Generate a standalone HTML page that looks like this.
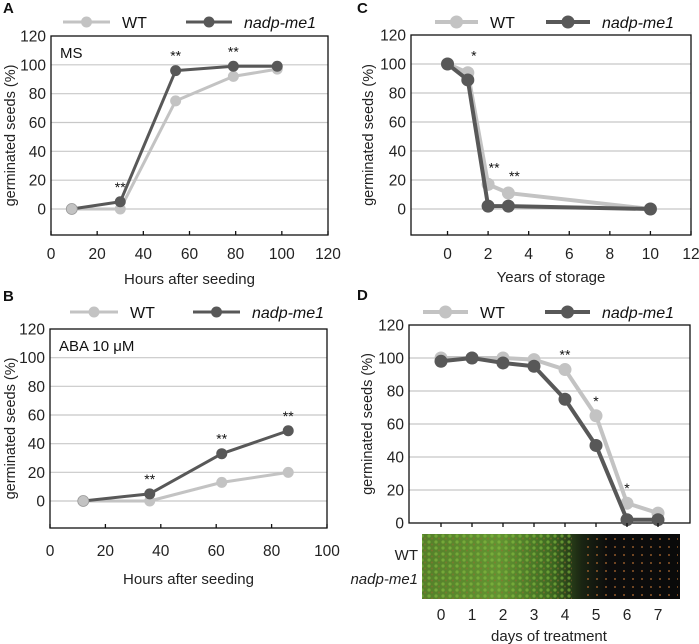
<!DOCTYPE html>
<html><head><meta charset="utf-8"><style>
body{margin:0;background:#fff;}
svg{display:block;font-family:"Liberation Sans",sans-serif;}
</style></head><body>
<svg id="fig" width="699" height="644" viewBox="0 0 699 644">
<defs>
<linearGradient id="seedGrad" x1="0" x2="1" y1="0" y2="0">
<stop offset="0" stop-color="#557f2a"/><stop offset="0.3" stop-color="#639432"/><stop offset="0.5" stop-color="#3f6a22"/><stop offset="0.62" stop-color="#1a2412"/><stop offset="0.72" stop-color="#0c0c0c"/><stop offset="1" stop-color="#0a0a0a"/>
</linearGradient>
<pattern id="dots" width="9" height="8" patternUnits="userSpaceOnUse"><circle cx="3" cy="3" r="1" fill="#b06a30"/></pattern>
<pattern id="leaf" width="7" height="6" patternUnits="userSpaceOnUse"><circle cx="2" cy="2" r="1.6" fill="#86c040" opacity="0.6"/><circle cx="5" cy="4.5" r="1" fill="#9a6a30" opacity="0.5"/></pattern>
</defs>
</svg>
<script>
const aX=[9,30,54,79,98], aWT=[0,0,75,92,97], aMut=[0,5,96,99,99], aStars=['','**','**','**',''];
const bX=[12,36,62,86], bWT=[0,0,13,20], bMut=[0,5,33,49], bStars=['','**','**','**'];
const cX=[0,1,2,3,10], cWT=[100,94,17,11,0], cMut=[100,89,2,2,0], cStars=['','*','**','**',''];
const dX=[0,1,2,3,4,5,6,7], dWT=[100,100,100,99,93,65,12,6], dMut=[98,100,97,95,75,47,2,2], dStars=['','','','','**','*','*',''];
const yTicks=[0,20,40,60,80,100,120];
const aXTicks=[0,20,40,60,80,100,120], bXTicks=[0,20,40,60,80,100], cXTicks=[0,2,4,6,8,10,12], dXTicks=[0,1,2,3,4,5,6,7];
const WT='#c3c3c3', MUT='#585858';
const svg=document.getElementById('fig');
const NS='http://www.w3.org/2000/svg';
function mk(tag,at,parent){const e=document.createElementNS(NS,tag);for(const k in at)e.setAttribute(k,at[k]);(parent||svg).appendChild(e);return e;}
function txt(s,at,parent){const e=mk('text',at,parent);e.textContent=s;return e;}

function panel(o){
  const g=mk('g',{});
  
  
  const sx=v=>o.x0+(v-o.xmin)/(o.xmax-o.xmin)*(o.x1-o.x0);
  const sy=v=>o.yZero-(v/120)*(o.yZero-o.top);
  yTicks.forEach(t=>{if(t>0&&t<120){const l=mk('line',{x1:o.x0,x2:o.x1,y1:sy(t),y2:sy(t),stroke:'#c8c8c8','stroke-width':1.2},g);}});
  if(o.zeroGrid){const l=mk('line',{x1:o.x0,x2:o.x1,y1:sy(0),y2:sy(0),stroke:'#c8c8c8','stroke-width':1.2},g);}
  const fr=mk('rect',{x:o.x0,y:o.top,width:o.x1-o.x0,height:o.bottom-o.top,fill:'none',stroke:'#111','stroke-width':1.3},g);
  
  yTicks.forEach(t=>{const e=txt(String(t),{x:o.x0-5,y:sy(t)+5.5,'font-size':15.5,'text-anchor':'end',fill:'#222'},g);});
  o.xTicks.forEach(t=>{const px=o.cat?o.catX(t):sx(t);
    mk('line',{x1:px,x2:px,y1:o.bottom,y2:o.bottom-4,stroke:'#111','stroke-width':1.3},g);
    const e=txt(String(t),{x:px,y:o.xLabY,'font-size':15.5,'text-anchor':'middle',fill:'#222'},g);});
  const yt=txt('germinated seeds (%)',{x:0,y:0,'font-size':14.5,'text-anchor':'middle',fill:'#222',transform:`translate(${o.yTitleX},${(o.top+o.bottom)/2}) rotate(-90)`},g);
  
  const xt=txt(o.xTitle,{x:(o.x0+o.x1)/2,y:o.xTitleY,'font-size':15,'text-anchor':'middle',fill:'#222'},g);
  
  if(o.label){const e=txt(o.label,{x:o.x0+9,y:o.top+22,'font-size':15,fill:'#111'},g);}
  const px=i=>o.cat?o.catX(o.xs[i]):sx(o.xs[i]);
  [[o.wt,WT,'wt'],[o.mut,MUT,'nadp-me1']].forEach(([vals,col,nm])=>{
    const pts=vals.map((v,i)=>px(i)+','+sy(v)).join(' ');
    const pl=mk('polyline',{points:pts,fill:'none',stroke:col,'stroke-width':o.lw,'stroke-linejoin':'round'},g);
    
    vals.forEach((v,i)=>{const c=mk('circle',{cx:px(i),cy:sy(v),r:o.r,fill:col},g);
      });
  });
  if(o.wtTopFirst){const c=mk('circle',{cx:px(0),cy:sy(o.wt[0]),r:o.r,fill:WT,stroke:'#999','stroke-width':0.8},g);}
  o.stars.forEach((s,i)=>{if(!s)return;const top=Math.max(o.wt[i],o.mut[i]);
    const e=txt(s,{x:px(i)+(o.starDx||0),y:sy(top)-o.starOff,'font-size':14,'text-anchor':'middle',fill:'#111'},g);
    });
  const lg=mk('g',{},g);
  const L=o.leg;
  const e1=mk('line',{x1:L.w0,x2:L.w1,y1:L.y,y2:L.y,stroke:WT,'stroke-width':o.lw},lg);
  mk('circle',{cx:(L.w0+L.w1)/2,cy:L.y,r:o.r,fill:WT},lg);
  txt('WT',{x:L.w1+12,y:L.y+6,'font-size':16,fill:'#111'},lg);
  const e2=mk('line',{x1:L.m0,x2:L.m1,y1:L.y,y2:L.y,stroke:MUT,'stroke-width':o.lw},lg);
  mk('circle',{cx:(L.m0+L.m1)/2,cy:L.y,r:o.r,fill:MUT},lg);
  txt('nadp-me1',{x:L.m1+12,y:L.y+6,'font-size':16,'font-style':'italic',fill:'#111'},lg);
  const pl=txt(o.id.toUpperCase(),{x:o.letterX,y:o.letterY,'font-size':15,'font-weight':'bold',fill:'#111'},g);
  
}

panel({id:'a',x0:51,x1:328,xmin:0,xmax:120,top:36,bottom:235,yZero:209,xs:aX,wt:aWT,mut:aMut,stars:aStars,xTicks:aXTicks,xLabY:259,xTitle:'Hours after seeding',xTitleY:284,yTitleX:15,label:'MS',zeroGrid:true,lw:3,r:5.5,starOff:10,wtTopFirst:true,leg:{y:22,w0:63,w1:110,m0:186,m1:232},letterX:3,letterY:13});
panel({id:'b',x0:50,x1:327,xmin:0,xmax:100,top:329,bottom:528,yZero:501,xs:bX,wt:bWT,mut:bMut,stars:bStars,xTicks:bXTicks,xLabY:556,xTitle:'Hours after seeding',xTitleY:584,yTitleX:15,label:'ABA 10 μM',zeroGrid:true,lw:3,r:5.5,starOff:10,wtTopFirst:true,leg:{y:312,w0:70,w1:118,m0:193,m1:240},letterX:3,letterY:301});
panel({id:'c',x0:411,x1:691,xmin:-1.8,xmax:12,top:35,bottom:235,yZero:209,xs:cX,wt:cWT,mut:cMut,stars:cStars,xTicks:cXTicks,xLabY:259,xTitle:'Years of storage',xTitleY:282,yTitleX:373,zeroGrid:true,lw:4,r:6.5,starOff:12,starDx:6,leg:{y:22,w0:435,w1:478,m0:546,m1:590},letterX:357,letterY:13});
panel({id:'d',x0:409,x1:690,xmin:0,xmax:1,top:325,bottom:523,yZero:523,cat:true,catX:v=>441+v*31,xs:dX,wt:dWT,mut:dMut,stars:dStars,xTicks:[],xLabY:0,xTitle:'',xTitleY:0,yTitleX:372,zeroGrid:false,lw:4,r:6.5,starOff:10,leg:{y:312,w0:423,w1:468,m0:545,m1:590},letterX:357,letterY:300});
dXTicks.forEach(t=>{const x=441+t*31;
  mk('line',{x1:x,x2:x,y1:523,y2:527,stroke:'#111','stroke-width':1.3});
  const e=txt(String(t),{x:x,y:620,'font-size':15.5,'text-anchor':'middle',fill:'#222'});
  
  });
const strip=mk('rect',{x:422,y:534,width:258,height:65,fill:'url(#seedGrad)'});


mk('rect',{x:422,y:534,width:150,height:65,fill:'url(#leaf)'});
mk('rect',{x:580,y:536,width:98,height:61,fill:'url(#dots)',opacity:0.8});
const w=txt('WT',{x:418,y:560,'font-size':15,'text-anchor':'end',fill:'#222'});


const n=txt('nadp-me1',{x:418,y:584,'font-size':15,'font-style':'italic','text-anchor':'end',fill:'#222'});


const dt=txt('days of treatment',{x:549,y:641,'font-size':15,'text-anchor':'middle',fill:'#222'});


</script>
</body></html>
